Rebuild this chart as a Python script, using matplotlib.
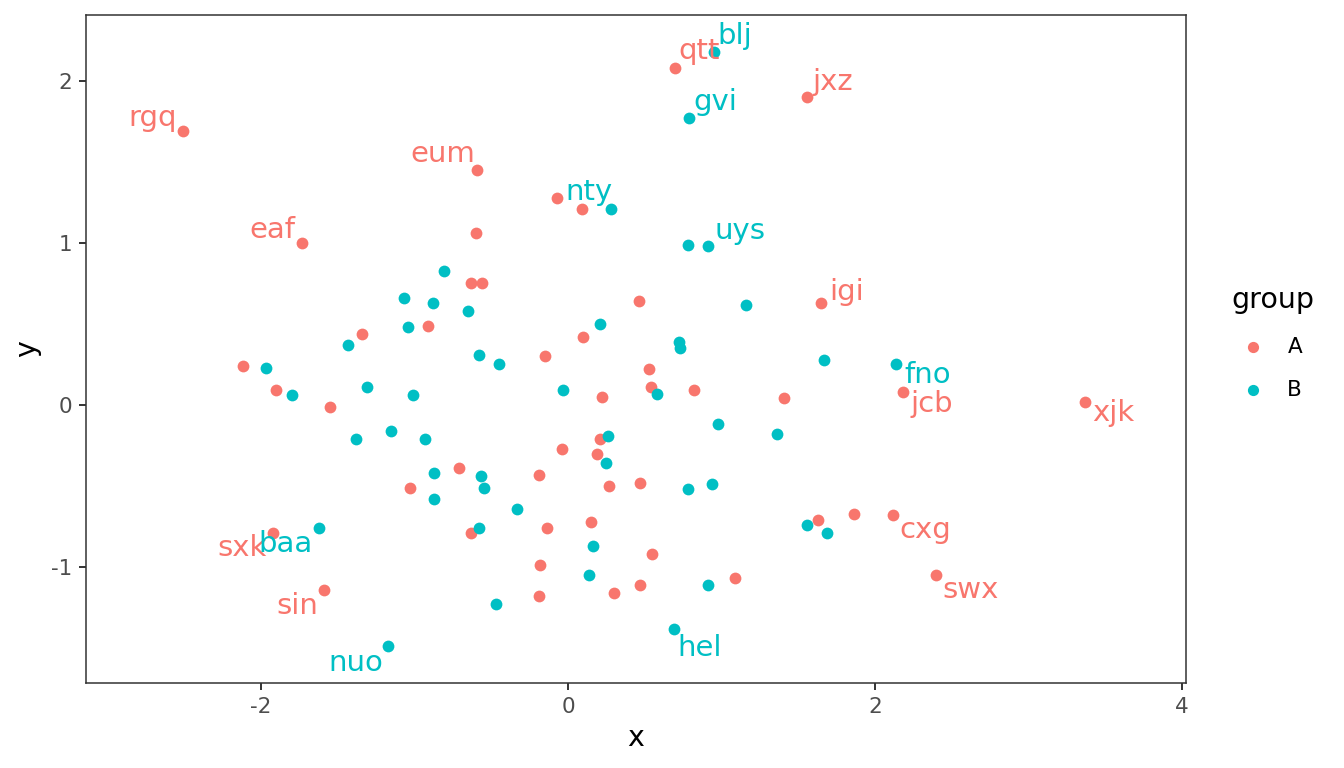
import matplotlib
matplotlib.use("Agg")
import matplotlib.pyplot as plt

# group A (red) - labelled points first
labels_a = ["rgq", "eum", "eaf", "qtt", "jxz", "igi", "jcb", "xjk", "cxg", "swx", "sxk", "sin"]
x_a = [-2.51, -0.59, -1.73, 0.70, 1.56, 1.65, 2.18, 3.37, 2.12, 2.40, -1.92, -1.59,
       -0.07, 0.09, -0.60, -0.63, -0.56, 0.46, -1.34, -0.91, 0.10, -2.12, -0.15, 0.53,
       -1.90, 0.54, -1.55, 0.22, 0.82, 1.41, 0.21, -0.04, 0.19, -0.71, -0.19, 0.27,
       0.47, -1.03, -0.63, -0.14, 0.15, 0.55, -0.18, 0.47, 0.30, -0.19, 1.09, 1.63, 1.86]
y_a = [1.69, 1.45, 1.00, 2.08, 1.90, 0.63, 0.08, 0.02, -0.68, -1.05, -0.79, -1.14,
       1.28, 1.21, 1.06, 0.75, 0.75, 0.64, 0.44, 0.49, 0.42, 0.24, 0.30, 0.22,
       0.09, 0.11, -0.01, 0.05, 0.09, 0.04, -0.21, -0.27, -0.30, -0.39, -0.43, -0.50,
       -0.48, -0.51, -0.79, -0.76, -0.72, -0.92, -0.99, -1.11, -1.16, -1.18, -1.07, -0.71, -0.67]

# group B (blue) - labelled points first
labels_b = ["blj", "gvi", "nty", "uys", "fno", "baa", "hel", "nuo"]
x_b = [0.95, 0.79, 0.28, 0.91, 2.14, -1.62, 0.69, -1.17,
       0.78, -0.81, -1.07, -0.88, -0.65, -1.04, 1.16, 0.21, -1.43, 0.72, 0.73, -0.58,
       -0.45, 1.67, -1.97, -1.31, -0.03, -1.80, -1.01, 0.58, -1.15, -1.38, -0.93, 0.98,
       1.36, 0.26, 0.25, -0.57, -0.87, -0.55, 0.78, 0.94, -0.87, -0.33, -0.58, 1.56,
       1.69, 0.16, 0.14, 0.91, -0.47]
y_b = [2.18, 1.77, 1.21, 0.98, 0.25, -0.76, -1.38, -1.49,
       0.99, 0.83, 0.66, 0.63, 0.58, 0.48, 0.62, 0.50, 0.37, 0.39, 0.35, 0.31,
       0.25, 0.28, 0.23, 0.11, 0.09, 0.06, 0.06, 0.07, -0.16, -0.21, -0.21, -0.12,
       -0.18, -0.19, -0.36, -0.44, -0.42, -0.51, -0.52, -0.49, -0.58, -0.64, -0.76, -0.74,
       -0.79, -0.87, -1.05, -1.11, -1.23]

col_a = "#F8766D"
col_b = "#00BFC4"

# where the repelled labels sit, offset from their point in pixels
label_offset = {
    "rgq": (-30, 13), "eum": (-35, 16), "eaf": (-30, 13), "qtt": (24, 17),
    "blj": (21, 16), "jxz": (25, 15), "gvi": (26, 16), "nty": (-22, 17),
    "uys": (32, 15), "igi": (25, 11), "fno": (31, -11), "jcb": (29, -12),
    "xjk": (28, -11), "cxg": (32, -15), "swx": (34, -15), "sxk": (-31, -15),
    "baa": (-34, -16), "sin": (-27, -16), "nuo": (-33, -17), "hel": (26, -19),
}

fig = plt.figure(figsize=(13.44, 7.68), dpi=100)
ax = fig.add_axes([86 / 1344, 1 - 683 / 768, 1100 / 1344, 668 / 768])

ax.scatter(x_a, y_a, s=72, color=col_a, linewidths=0, label="A", zorder=3)
ax.scatter(x_b, y_b, s=72, color=col_b, linewidths=0, label="B", zorder=3)

for labels, xs, ys, col in [(labels_a, x_a, y_a, col_a), (labels_b, x_b, y_b, col_b)]:
    for i, name in enumerate(labels):
        dx, dy = label_offset[name]
        ax.annotate(name, (xs[i], ys[i]), xytext=(dx, dy), textcoords="offset pixels",
                    ha="center", va="center", color=col, fontsize=21, zorder=4)

ax.set_xlim(-3.14, 4.026)
ax.set_ylim(-1.716, 2.407)
ax.set_xticks([-2, 0, 2, 4])
ax.set_yticks([-1, 0, 1, 2])
ax.set_xticklabels(["-2", "0", "2", "4"])
ax.set_yticklabels(["-1", "0", "1", "2"])
ax.tick_params(colors="#333333", labelcolor="#4D4D4D", labelsize=15.5,
               length=5.2, width=1.4, pad=5)
for sp in ax.spines.values():
    sp.set_color("#333333")
    sp.set_linewidth(1.1)
ax.set_xlabel("x", fontsize=20.5, labelpad=5)
ax.set_ylabel("y", fontsize=20.5, labelpad=7)

leg = fig.legend(loc="upper left", bbox_to_anchor=(1212 / 1344, 1 - 267 / 768),
                 frameon=False, title="group", fontsize=15.5, title_fontsize=20.5,
                 alignment="left", handletextpad=0.6, labelspacing=1.05,
                 handlelength=2.0, markerscale=0.95)

fig.savefig("out.png", dpi=100)
